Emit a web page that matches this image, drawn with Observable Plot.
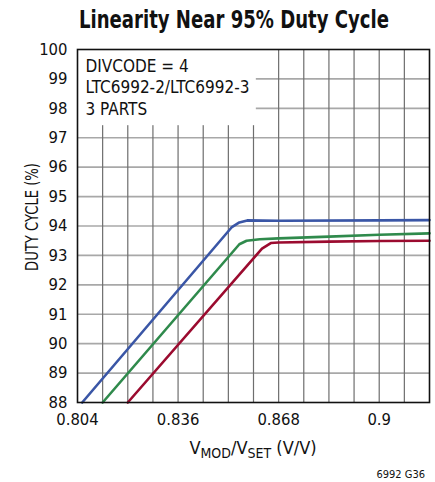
<!DOCTYPE html>
<html>
<head>
<meta charset="utf-8">
<script src="https://cdn.jsdelivr.net/npm/d3@7"></script>
<script src="https://cdn.jsdelivr.net/npm/@observablehq/plot@0.6"></script>
<style>
  body { margin: 0; background: #fff; font-family: "DejaVu Sans Condensed", sans-serif; }
  #title { position: relative; height: 40px; width: 435px; font-weight: bold; font-size: 25px; line-height: 36px; white-space: nowrap; }
  #title span { position: absolute; left: 0; top: 0; transform-origin: 0 0; color: #111; }
  #chart svg { display: block; }
</style>
</head>
<body>
<div id="title"><span>Linearity Near 95% Duty Cycle</span></div>
<div id="chart"></div>
<script>
const xTicks = [0.804, 0.836, 0.868, 0.9];
const xGrid = [0.812, 0.820, 0.828, 0.836, 0.844, 0.852, 0.860, 0.868, 0.876, 0.884, 0.892, 0.900, 0.908];
const yTicks = [88, 89, 90, 91, 92, 93, 94, 95, 96, 97, 98, 99, 100];
const yGrid = [89, 90, 91, 92, 93, 94, 95, 96, 97, 98, 99];

const blueX = [0.8055, 0.853, 0.8555, 0.858, 0.868, 0.900, 0.916];
const blueY = [88, 93.95, 94.12, 94.19, 94.18, 94.19, 94.2];
const greenX = [0.812, 0.8555, 0.8578, 0.862, 0.868, 0.884, 0.900, 0.916];
const greenY = [88, 93.38, 93.5, 93.55, 93.58, 93.64, 93.7, 93.75];
const redX = [0.820, 0.8627, 0.8655, 0.868, 0.884, 0.900, 0.916];
const redY = [88, 93.23, 93.42, 93.44, 93.47, 93.49, 93.5];

const noteLines = ["DIVCODE = 4", "LTC6992-2/LTC6992-3", "3 PARTS"];
const noteBox = {x1: 0.804, x2: 0.8609, y1: 97.41, y2: 100};

const series = [
  {name: "A", xs: blueX, ys: blueY, color: "#3a56a6"},
  {name: "B", xs: greenX, ys: greenY, color: "#2f8a4c"},
  {name: "C", xs: redX, ys: redY, color: "#9b0b2f"}
];
const rows = series.flatMap(s => s.xs.map((x, i) => ({x, y: s.ys[i], s: s.name, c: s.color})));

const font = '"DejaVu Sans Condensed", sans-serif';

// title: condensed look, centered at x≈234
const tspan = document.querySelector("#title span");
const tw = tspan.getBoundingClientRect().width;
const targetW = 310;
const sx = targetW / tw;
tspan.style.transform = `translate(${234 - targetW / 2}px, 2px) scaleX(${sx})`;

const chart = Plot.plot({
  width: 435,
  height: 442,
  marginLeft: 77,
  marginRight: 6,
  marginTop: 9,
  marginBottom: 80,
  style: {fontFamily: font, fontSize: "16.5px", color: "#111", background: "#fff"},
  x: {domain: [0.804, 0.916]},
  y: {domain: [88, 100]},
  marks: [
    Plot.ruleY(yGrid, {stroke: "#a8a8a8", strokeWidth: 1.6}),
    Plot.ruleX(xGrid, {stroke: "#6e6e6e", strokeWidth: 1.2}),
    Plot.rect([noteBox], {x1: "x1", x2: "x2", y1: "y1", y2: "y2", fill: "#fff"}),
    Plot.text([noteLines.join("\n")], {
      frameAnchor: "top-left", textAnchor: "start", lineAnchor: "top",
      dx: 8, dy: 7, lineHeight: 1.27, fontSize: 17, fill: "#111"
    }),
    Plot.line(rows, {x: "x", y: "y", z: "s", stroke: "c", strokeWidth: 2.6, strokeLinejoin: "round"}),
    Plot.axisX({ticks: xTicks, tickSize: 0, tickPadding: 11, tickFormat: d => String(d), fontSize: 16.5, label: null}),
    Plot.axisY({ticks: yTicks, tickSize: 0, tickPadding: 10, tickFormat: d => String(d), fontSize: 16.5, label: null}),
    Plot.frame({stroke: "#111", strokeWidth: 1.6})
  ]
});
document.getElementById("chart").appendChild(chart);

const svg = d3.select(chart);

// x-axis label with subscripts
const xl = svg.append("text")
  .attr("x", 253).attr("y", 414)
  .attr("text-anchor", "middle")
  .attr("font-family", font)
  .attr("font-size", 18)
  .attr("fill", "#111");
xl.append("tspan").text("V");
xl.append("tspan").attr("font-size", 14).attr("dy", 4).text("MOD");
xl.append("tspan").attr("dy", -4).text("/V");
xl.append("tspan").attr("font-size", 14).attr("dy", 4).text("SET");
xl.append("tspan").attr("dy", -4).text(" (V/V)");

// y-axis label
svg.append("text")
  .attr("transform", "translate(32,177) rotate(-90)")
  .attr("text-anchor", "middle")
  .attr("dy", "0.35em")
  .attr("font-family", font)
  .attr("font-size", 18)
  .attr("textLength", 108)
  .attr("lengthAdjust", "spacingAndGlyphs")
  .attr("fill", "#111")
  .text("DUTY CYCLE (%)");

// figure code
svg.append("text")
  .attr("x", 425).attr("y", 438)
  .attr("text-anchor", "end")
  .attr("font-family", font)
  .attr("font-size", 11)
  .attr("fill", "#111")
  .text("6992 G36");
</script>
</body>
</html>
